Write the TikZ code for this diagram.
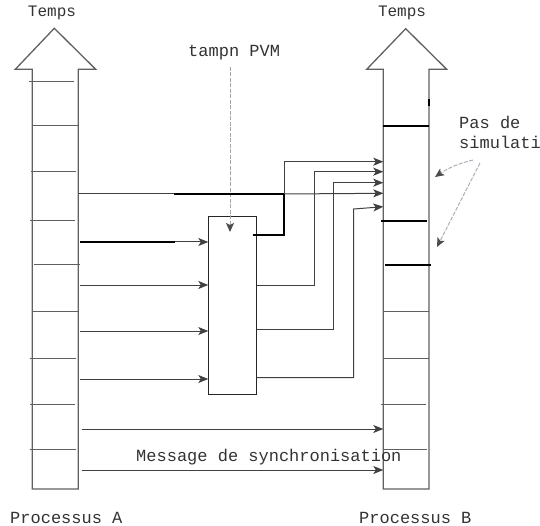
\documentclass[tikz,border=0pt]{standalone}
\usepackage{fontspec}
\setmainfont{Liberation Mono}
\usetikzlibrary{arrows.meta}
\definecolor{shaft}{HTML}{606060}
\definecolor{wire}{HTML}{404040}
\definecolor{hint}{HTML}{A8B0B8}
\tikzset{
  shaftline/.style={draw=shaft, line width=1.3pt, line join=miter},
  tick/.style={draw=shaft, line width=1pt},
  thicktick/.style={draw=black, line width=2.2pt},
  wireline/.style={draw=wire, line width=1pt},
  thickwire/.style={draw=black, line width=2.2pt},
  msg/.style={wireline, -{Stealth[length=10pt,width=8pt,inset=2.5pt]}},
  hintarrow/.style={draw=hint, line width=1pt, dashed, dash pattern=on 4pt off 1.5pt, -{Stealth[length=9pt,width=8pt,inset=2pt,color=black!70]}},
  lbl/.style={inner sep=0pt, text=black!80, font=\fontsize{17}{20}\selectfont},
  boxstyle/.style={draw=black!85, line width=1pt, inner sep=0pt}
}
\begin{document}
\begin{tikzpicture}[x=1pt,y=-1pt]
\useasboundingbox (0,0) rectangle (540,526);
% ---- Process A arrow
\draw[shaftline] (32.3,489) -- (32.3,69.3) -- (15.3,69.3) -- (54.3,28.3) -- (95.7,69.3) -- (78.3,69.3) -- (78.3,489) -- cycle;
\foreach \y/\a/\b in {82/29/74, 126/32/78, 172/31/76, 221/30/75, 265/34/80, 311/32/78, 358/30/76, 404/30/75, 449/30/76}
  \draw[tick] (\a,\y) -- (\b,\y);
% ---- Process B arrow
\draw[shaftline] (383.3,489) -- (383.3,69.3) -- (366.7,69.3) -- (405.7,28.7) -- (446.7,69.3) -- (429,69.3) -- (429,489) -- cycle;
\draw[thicktick] (429,99) -- (429,106);
\foreach \y/\a/\b in {126/383/429, 221/381/427, 265/385/431}
  \draw[thicktick] (\a,\y) -- (\b,\y);
\foreach \y/\a/\b in {311/383/429, 358/383/429, 404/381/426, 449/383/427}
  \draw[tick] (\a,\y) -- (\b,\y);
% ---- labels
\node[lbl, font=\fontsize{16}{19}\selectfont] (tA) at (52,13) {Temps};
\node[lbl, font=\fontsize{16}{19}\selectfont] (tB) at (402,13) {Temps};
\node[lbl, anchor=west] (pvm) at (188,53) {tampn PVM};
\node[lbl, anchor=west] (pas) at (459,122) {Pas de};
\node[lbl, anchor=west] (sim) at (459,142) {simulation};
\node[lbl, anchor=west] (sync) at (136,457) {Message de synchronisation};
\node[lbl, anchor=west] (pA) at (10,518) {Processus A};
\node[lbl, anchor=west] (pB) at (359,518) {Processus B};
% ---- buffer box
\node[boxstyle, minimum width=47.4pt, minimum height=178pt, anchor=north west] (buf) at (208.3,216) {};
% ---- coordinates
\coordinate (pvmS) at (230,67);
\coordinate (pvmE) at (230,232);
% ---- hint arrows
\draw[hintarrow, draw=gray!70] (pvmS) -- (pvmE);
\coordinate (s1) at (473,160);
\coordinate (e1) at (435,177);
\coordinate (s2) at (480,163);
\coordinate (e2) at (437,247);
\draw[hintarrow] (s1) .. controls (460,163) and (448,168) .. (e1);
\draw[hintarrow] (s2) -- (e2);
% ---- A -> buffer
\draw[thickwire] (80,242) -- (175,242);
\draw[msg] (175,242) -- (buf.west |- 0,242);
\foreach \y in {285,331,379}
  \draw[msg] (80,\y) -- (buf.west |- 0,\y);
% ---- A -> B direct (top)
\draw[wireline] (78.3,194) -- (174,194);
\draw[thickwire] (174,194) -- (284.3,194);
\draw[msg] (284.3,194) -- (383.3,193.3);
% ---- buffer -> B routes
\draw[line width=1.4pt, draw=black] (252.7,235) -- (284.3,235);
\draw[thickwire] (284.3,236) -- (284.3,193);
\draw[msg] (284.3,194) -- (284.3,161.7) -- (383.3,161.7);
\draw[msg] (buf.east |- 0,285.7) -- (314.3,285.7) -- (314.3,171.7) -- (383.3,171.7);
\draw[msg] (buf.east |- 0,329) -- (333.3,329) -- (333.3,182.7) -- (383.3,182.7);
\draw[msg] (buf.east |- 0,377.7) -- (353.7,377.7) -- (353.7,209) -- (383.3,206.7);
% ---- synchronisation messages
\draw[msg] (81.7,429) -- (383.3,429);
\draw[msg] (81.7,470) -- (383.3,470);
\end{tikzpicture}
\end{document}
